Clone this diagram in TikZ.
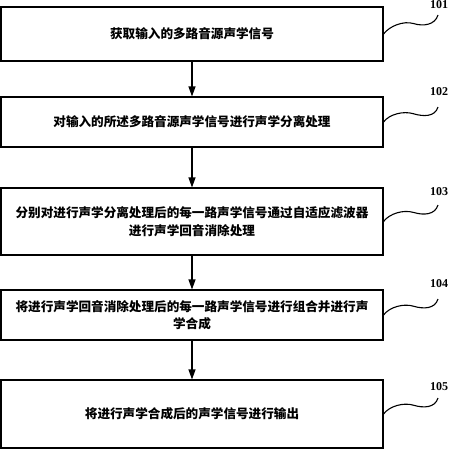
\documentclass[tikz,border=0pt]{standalone}
\usepackage{fontspec}
\setmainfont{Liberation Serif}
\newfontfamily\cjk{Noto Sans CJK SC}
\usepackage{tikz}
\usetikzlibrary{arrows.meta}
\usetikzlibrary{calc}

\tikzset{
	stepbox/.style={draw, line width=1.1pt, minimum width=382pt, inner sep=0pt,
		align=center, font=\cjk\bfseries\fontsize{12.6pt}{17.5pt}\selectfont},
	stepnum/.style={inner sep=0pt, font=\bfseries\fontsize{12pt}{12pt}\selectfont},
	flow/.style={line width=1.1pt, -{Triangle[length=10pt,width=7pt]}},
	wave/.style={line width=1.1pt}
}

\begin{document}
\begin{tikzpicture}[x=1pt, y=-1pt]
	\useasboundingbox (0,0) rectangle (449,450);

	\node[stepbox, minimum height=54pt] (s1) at (192,34) {获取输入的多路音源声学信号};
	\node[stepbox, minimum height=50pt] (s2) at (192,122) {对输入的所述多路音源声学信号进行声学分离处理};
	\node[stepbox, minimum height=67pt] (s3) at (192,221.5) {分别对进行声学分离处理后的每一路声学信号通过自适应滤波器\\进行声学回音消除处理};
	\node[stepbox, minimum height=50pt] (s4) at (192,315) {将进行声学回音消除处理后的每一路声学信号进行组合并进行声\\学合成};
	\node[stepbox, minimum height=68pt] (s5) at (192,414) {将进行声学合成后的声学信号进行输出};

	\node[stepnum] (n1) at (439,5) {101};
	\node[stepnum] (n2) at (439,92) {102};
	\node[stepnum] (n3) at (439,192) {103};
	\node[stepnum] (n4) at (439,284) {104};
	\node[stepnum] (n5) at (439,387) {105};

	\coordinate (w1) at (438,15);
	\coordinate (w2) at (438,107);
	\coordinate (w3) at (438,205);
	\coordinate (w4) at (438,299);
	\coordinate (w5) at (438,398);

	\draw[flow] (s1) -- (s2);
	\draw[flow] (s2) -- (s3);
	\draw[flow] (s3) -- (s4);
	\draw[flow] (s4) -- (s5);

	% wavy leaders to the step numbers
	\foreach \i in {1,...,5}
		\draw[wave] (s\i.east) .. controls +(6,-8) and +(-10,-3) .. ($(s\i.east)!.55!(w\i)$)
			.. controls +(10,3) and +(-3,10) .. (w\i);
\end{tikzpicture}
\end{document}
